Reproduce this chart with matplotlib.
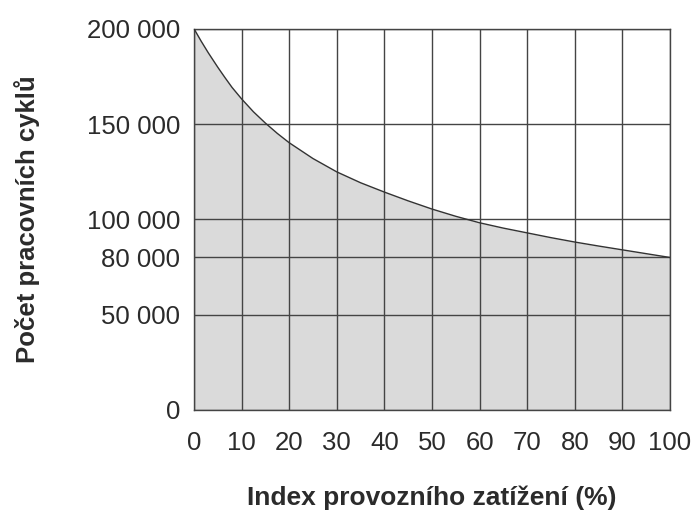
import numpy as np
from matplotlib import pyplot as plt

plt.rcParams['font.family'] = ['Liberation Sans', 'DejaVu Sans']

# load index (%) and number of working cycles
load_index = [0, 1.5, 3, 5, 6.5, 8, 10, 12.5, 15, 17.5, 20, 25, 30, 35, 40, 45,
              50, 55, 60, 65, 70, 75, 80, 85, 90, 95, 100]
cycles = [200000, 193500, 187400, 179800, 174400, 169200, 163200, 156400, 150500,
          145100, 140200, 131900, 124900, 119200, 114300, 109700, 105400, 101600,
          98200, 95400, 92900, 90400, 88100, 86000, 84000, 82000, 80000]

x_ticks = [0, 10, 20, 30, 40, 50, 60, 70, 80, 90, 100]
y_ticks = [0, 50000, 80000, 100000, 150000, 200000]
y_labels = ["0", "50 000", "80 000", "100 000", "150 000", "200 000"]

txt = '#2b2b2b'
grid_c = '#444444'

fig = plt.figure(figsize=(6.96, 5.11), dpi=100)
ax = fig.add_axes([0.2787, 0.1977, 0.6839, 0.7461])

ax.fill_between(load_index, cycles, 0, color='#dadada', lw=0, zorder=1)
ax.plot(load_index, cycles, color='#333333', lw=1.0, zorder=3)

ax.set_xlim(0, 100)
ax.set_ylim(0, 200000)
ax.set_xticks(x_ticks)
ax.set_xticklabels([str(v) for v in x_ticks])
ax.set_yticks(y_ticks)
ax.set_yticklabels(y_labels)

# grid drawn over the fill
for v in x_ticks:
    ax.axvline(v, color=grid_c, lw=1.0, zorder=2)
for v in y_ticks:
    ax.axhline(v, color=grid_c, lw=1.0, zorder=2)

for s in ax.spines.values():
    s.set_color(grid_c)
    s.set_linewidth(1.0)

ax.tick_params(axis='both', length=0, labelsize=18.5, colors=txt)
ax.tick_params(axis='y', pad=10)
ax.tick_params(axis='x', pad=15)

ax.set_xlabel("Index provozního zatížení (%)", fontsize=19, fontweight='bold',
              color=txt)
ax.set_ylabel("Počet pracovních cyklů", fontsize=18.5, fontweight='bold',
              color=txt)
ax.xaxis.set_label_coords(0.5, -0.249)
ax.xaxis.label.set_va('baseline')
ax.yaxis.set_label_coords(-0.324, 0.5)

fig.savefig("out.png", dpi=100)
